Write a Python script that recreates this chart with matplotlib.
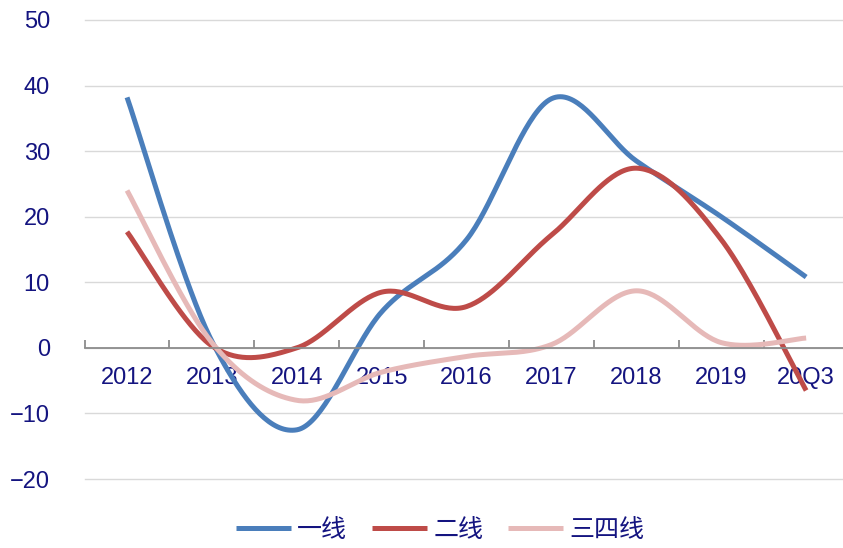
import numpy as np
import matplotlib
matplotlib.use("Agg")
import matplotlib.pyplot as plt

plt.rcParams['font.family'] = ['Liberation Sans', 'Noto Sans CJK SC', 'DejaVu Sans']

categories = ["2012", "2013", "2014", "2015", "2016", "2017", "2018", "2019", "20Q3"]
tier1 = [38.2, 1.0, -12.5, 5.5, 16.5, 38.0, 28.5, 20.0, 10.8]
tier2 = [17.7, 0.3, 0.0, 8.5, 6.3, 17.2, 27.4, 16.5, -6.5]
tier34 = [24.0, 0.8, -8.0, -3.7, -1.3, 0.5, 8.7, 0.8, 1.5]

series_names = ["一线", "二线", "三四线"]
colors = ["#4A7EBB", "#BE4B48", "#E6B9B8"]
text_color = "#141480"


def smooth(xs, ys, n=40):
    # excel-like smoothed line: cubic bezier with catmull-rom style control points
    xs = np.asarray(xs, float)
    ys = np.asarray(ys, float)
    px, py = [], []
    for i in range(len(xs) - 1):
        x0, y0 = xs[max(i - 1, 0)], ys[max(i - 1, 0)]
        x1, y1 = xs[i], ys[i]
        x2, y2 = xs[i + 1], ys[i + 1]
        x3, y3 = xs[min(i + 2, len(xs) - 1)], ys[min(i + 2, len(xs) - 1)]
        c1x, c1y = x1 + (x2 - x0) / 6, y1 + (y2 - y0) / 6
        c2x, c2y = x2 - (x3 - x1) / 6, y2 - (y3 - y1) / 6
        t = np.linspace(0, 1, n)
        bx = (1 - t) ** 3 * x1 + 3 * (1 - t) ** 2 * t * c1x + 3 * (1 - t) * t ** 2 * c2x + t ** 3 * x2
        by = (1 - t) ** 3 * y1 + 3 * (1 - t) ** 2 * t * c1y + 3 * (1 - t) * t ** 2 * c2y + t ** 3 * y2
        px.extend(bx)
        py.extend(by)
    return np.array(px), np.array(py)


fig = plt.figure(figsize=(8.43, 5.48), dpi=100)
ax = fig.add_axes([84.6 / 843, 1 - 479 / 548, 764 / 843, (479 - 20) / 548])

x = np.arange(len(categories))
for ys, name, c in zip([tier1, tier2, tier34], series_names, colors):
    sx, sy = smooth(x, ys)
    ax.plot(sx, sy, color=c, lw=3.6, label=name, solid_capstyle='butt', clip_on=False)

ax.set_xlim(-0.5, len(categories) - 0.5)
ax.set_ylim(-20, 50)
ax.set_yticks(range(-20, 51, 10))
ax.set_yticklabels([str(v).replace('-', '−') for v in range(-20, 51, 10)])
ax.yaxis.grid(True, color="#D9D9D9", lw=1)
for g in ax.yaxis.get_gridlines():
    g.set_clip_on(False)
ax.set_axisbelow(True)

for s in ["left", "right", "top"]:
    ax.spines[s].set_visible(False)
ax.spines["bottom"].set_position(("data", 0))
ax.spines["bottom"].set_color("#8C8C8C")
ax.spines["bottom"].set_linewidth(1.3)

ax.set_xticks(x)
ax.set_xticklabels(categories)
ax.set_xticks(np.arange(-0.5, len(categories), 1), minor=True)
ax.tick_params(axis='x', which='major', length=0, pad=14, labelsize=17, labelcolor=text_color)
ax.tick_params(axis='x', which='minor', direction='in', length=6, color="#8C8C8C", width=1.3)
ax.tick_params(axis='y', length=0, pad=25, labelsize=17, labelcolor=text_color)

leg = ax.legend(loc='center', ncol=3, frameon=False,
                fontsize=18, handlelength=2.2, columnspacing=1.0, handletextpad=0.25)
leg.set_bbox_to_anchor((440 / 843, 1 - 530 / 548), transform=fig.transFigure)
for t in leg.get_texts():
    t.set_color(text_color)
    t.set_family(['Noto Sans CJK SC', 'DejaVu Sans'])

fig.savefig("out.png", dpi=100)
